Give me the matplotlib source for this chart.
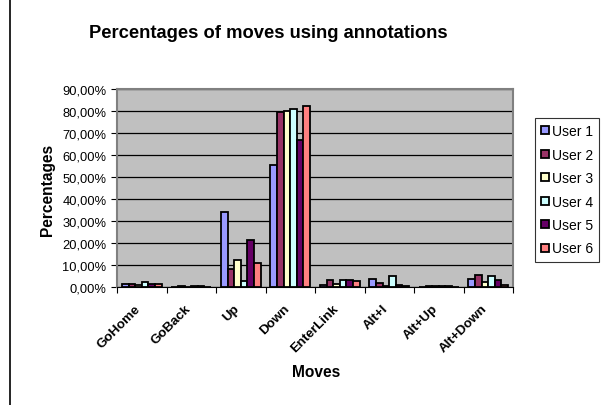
import matplotlib
matplotlib.use("Agg")
import matplotlib.pyplot as plt
import numpy as np
from matplotlib.lines import Line2D
from matplotlib.transforms import ScaledTranslation

plt.rcParams["font.family"] = ["Liberation Sans", "DejaVu Sans"]

moves = ["GoHome", "GoBack", "Up", "Down", "EnterLink", "Alt+I", "Alt+Up", "Alt+Down"]
users = ["User 1", "User 2", "User 3", "User 4", "User 5", "User 6"]
colors = ["#9999FF", "#993366", "#FFFFCC", "#CCFFFF", "#660066", "#FF8080"]

# percentages per user, one value per move
user1 = [1.5, 0.2, 34.1, 55.5, 0.8, 3.6, 0.2, 3.5]
user2 = [1.2, 0.3, 8.2, 79.5, 3.0, 1.8, 0.3, 5.3]
user3 = [0.9, 0.2, 12.3, 80.0, 1.3, 0.5, 0.3, 2.4]
user4 = [2.3, 0.5, 2.7, 81.0, 3.1, 5.0, 0.5, 4.9]
user5 = [1.4, 0.5, 21.4, 66.8, 3.4, 1.0, 0.4, 3.4]
user6 = [1.2, 0.2, 10.9, 82.3, 2.9, 0.5, 0.2, 0.9]
series = [user1, user2, user3, user4, user5, user6]

yticks = np.arange(0, 91, 10)

fig = plt.figure(figsize=(6.04, 4.06), dpi=100)
ax = fig.add_axes([117 / 604, 1 - 288 / 406, (513 - 117) / 604, (288 - 90) / 406])
ax.set_facecolor("#C0C0C0")

x = np.arange(len(moves))
w = 1 / 7.5
for i, (vals, col, name) in enumerate(zip(series, colors, users)):
    ax.bar(x + (i - 2.5) * w, vals, width=w, color=col, edgecolor="black",
           linewidth=1.3, label=name, zorder=3)

ax.set_ylim(0, 90)
ax.set_xlim(-0.5, len(moves) - 0.5)
ax.set_yticks(yticks)
ax.set_yticklabels([f"{v:.2f}%".replace(".", ",") for v in yticks], fontsize=9.3)
ax.yaxis.grid(True, color="black", linewidth=0.9, zorder=1)
ax.set_axisbelow(True)

ax.set_xticks(np.arange(-0.5, len(moves), 1))
ax.set_xticklabels([])
ax.set_xticks(x, minor=True)
ax.set_xticklabels(moves, minor=True, rotation=45, ha="right", va="top",
                   rotation_mode="anchor", fontsize=9.6, fontweight="bold")
ax.tick_params(axis="x", which="minor", length=0, pad=11)
ax.tick_params(axis="both", which="major", length=4, color="black")
shift = ScaledTranslation(-7 / 100, 0, fig.dpi_scale_trans)
for lab in ax.get_xticklabels(minor=True):
    lab.set_transform(lab.get_transform() + shift)

for side in ["top", "right", "left"]:
    ax.spines[side].set_color("#808080")
    ax.spines[side].set_linewidth(1.5)
ax.spines["bottom"].set_color("black")

fig.text(316 / 604, 1 - 373 / 406, "Moves", ha="center", va="center",
         fontsize=11.2, fontweight="bold")
fig.text(47 / 604, 1 - 190 / 406, "Percentages", ha="center", va="center",
         rotation=90, fontsize=11.2, fontweight="bold")
fig.text(268 / 604, 1 - 33 / 406, "Percentages of moves using annotations",
         ha="center", va="center", fontsize=13.2, fontweight="bold")

handles = [Line2D([0], [0], marker="s", linestyle="none", markersize=6,
                  markerfacecolor=c, markeredgecolor="black", markeredgewidth=1.3)
           for c in colors]
leg = fig.legend(handles, users, loc="upper left",
                 bbox_to_anchor=(535 / 604, 1 - 119 / 406), fontsize=10,
                 frameon=True, fancybox=False, handlelength=0.6,
                 handletextpad=0.15, labelspacing=0.68, borderpad=0.45,
                 borderaxespad=0)
leg.get_frame().set_edgecolor("black")
leg.get_frame().set_linewidth(0.8)

fig.add_artist(Line2D([10 / 604, 10 / 604], [0, 1], color="black", linewidth=1.2))

fig.savefig("out.png", dpi=100)
